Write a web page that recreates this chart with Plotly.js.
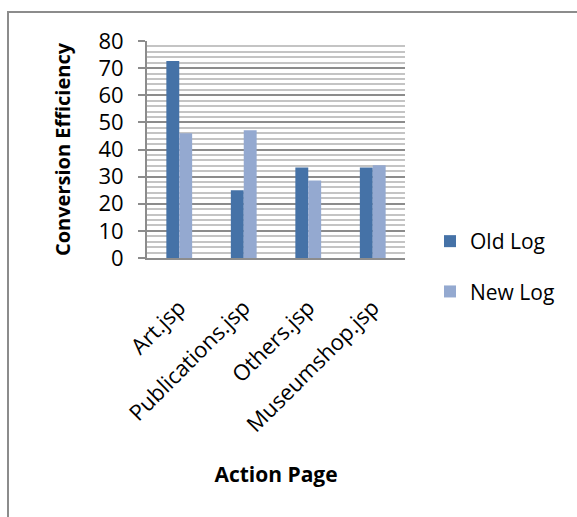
<!DOCTYPE html>
<html>
<head>
<meta charset="utf-8">
<script src="https://cdn.plot.ly/plotly-3.0.1.min.js"></script>
<style>
html,body{margin:0;padding:0;background:#fff;}
#chart{width:577px;height:517px;}
</style>
</head>
<body>
<div id="chart"></div>
<script>
var categories = ["Art.jsp", "Publications.jsp", "Others.jsp", "Museumshop.jsp"];
var oldLog = [72.6, 25.0, 33.4, 33.4];
var newLog = [46.0, 47.1, 28.6, 34.2];
var seriesNames = ["Old Log", "New Log"];
var yTicks = [0, 10, 20, 30, 40, 50, 60, 70, 80];

var FONT = "'Open Sans', 'Noto Sans', sans-serif";

var traces = [
  {type: "bar", name: seriesNames[0], x: categories, y: oldLog,
   marker: {color: "#4572a7"}, legendgroup: "a"},
  {type: "bar", name: seriesNames[1], x: categories, y: newLog,
   marker: {color: "#94a9d0"}, legendgroup: "b"}
];

// plot area pixel box: x 147..405, y 41..258
var L = 147, R = 577 - 405, T = 41, B = 517 - 258;
var pw = 577 - L - R, ph = 517 - T - B;
function px(x){ return (x - L) / pw; }
function py(y){ return (517 - B - y) / ph; }

var layout = {
  width: 577, height: 517,
  margin: {l: L, r: R, t: T, b: B, pad: 0},
  paper_bgcolor: "#fff", plot_bgcolor: "#fff",
  font: {family: FONT, color: "#000"},
  barmode: "group", bargap: 0.6, bargroupgap: 0,
  showlegend: true,
  legend: {x: px(430), xanchor: "left", y: py(221), yanchor: "top",
           font: {family: FONT, size: 21, color: "#000"},
           traceorder: "grouped", tracegroupgap: 20,
           bgcolor: "rgba(0,0,0,0)"},
  xaxis: {
    type: "category", tickangle: -45,
    tickfont: {family: FONT, size: 22, color: "#000"},
    ticklabelstandoff: 26,
    showline: true, linecolor: "#8c8c8c", linewidth: 2,
    ticks: "", showgrid: false, zeroline: false,
    automargin: false, fixedrange: true,
    title: {text: "<b>Action Page</b>", font: {family: FONT, size: 21, color: "#000"}, standoff: 30}
  },
  yaxis: {
    range: [0, 80], tickvals: yTicks, ticktext: yTicks.map(String),
    tickfont: {family: FONT, size: 22, color: "#000"},
    ticks: "outside", ticklen: 7, tickcolor: "#8c8c8c", tickwidth: 2,
    ticklabelstandoff: 10,
    showline: true, linecolor: "#8c8c8c", linewidth: 2,
    showgrid: true, gridcolor: "#8c8c8c", gridwidth: 2,
    minor: {dtick: 2, showgrid: true, gridcolor: "#c4c4c4", gridwidth: 2, ticks: ""},
    zeroline: false, automargin: false, fixedrange: true,
    title: {text: "<b>Conversion Efficiency</b>", font: {family: FONT, size: 20, color: "#000"}, standoff: 22}
  },
  shapes: [
    {type: "rect", xref: "paper", yref: "paper",
     x0: px(8), x1: px(582), y0: py(522), y1: py(12),
     line: {color: "#8c8c8c", width: 2}, fillcolor: "rgba(0,0,0,0)", layer: "below"}
  ]
};

Plotly.newPlot("chart", traces, layout, {displayModeBar: false, staticPlot: true});
</script>
</body>
</html>
